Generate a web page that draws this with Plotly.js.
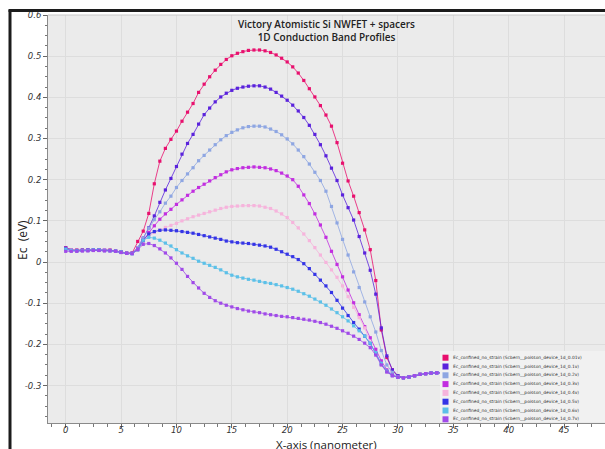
<!DOCTYPE html>
<html>
<head>
<meta charset="utf-8">
<script src="https://cdn.plot.ly/plotly-3.0.1.min.js"></script>
<style>
  html, body { margin: 0; padding: 0; background: #ffffff; }
  #chart { width: 605px; height: 449px; }
</style>
</head>
<body>
<div id="chart"></div>
<script>
// Position along the device (nm)
const xNm = [0,0.5,1,1.5,2,2.5,3,3.5,4,4.5,5,5.5,6,
  6.5,7,7.5,8,8.5,9,9.5,10,
  10.5,11,11.5,12,12.5,13,13.5,14,
  14.5,15,15.5,16,16.5,17,17.5,18,
  18.5,19,19.5,20,20.5,21,21.5,22,
  22.5,23,23.5,24,24.5,25,25.5,26,
  26.5,27,27.5,28,28.5,29,29.5,30,
  30.5,31,31.5,32,32.5,33,33.5,34,34.5,35];

// Conduction band edge Ec (eV) for each gate bias
const ec_001v = [0.035,0.030,0.029,0.029,0.030,0.030,0.030,0.029,0.029,0.027,0.025,0.022,0.022,
  0.050,0.075,0.118,0.190,0.245,0.276,0.298,0.318,
  0.342,0.364,0.385,0.412,0.432,0.450,0.466,0.480,
  0.492,0.501,0.507,0.511,0.514,0.515,0.515,0.513,
  0.509,0.503,0.495,0.486,0.474,0.459,0.441,0.421,
  0.401,0.380,0.357,0.330,0.290,0.240,0.197,0.160,
  0.120,0.078,0.030,-0.045,-0.165,-0.232,-0.262,-0.277,
  -0.281,-0.279,-0.276,-0.273,-0.271,-0.270,-0.269,-0.268,-0.268,-0.268];

const ec_01v = [0.034,0.029,0.028,0.029,0.029,0.030,0.030,0.029,0.028,0.027,0.024,0.021,0.021,
  0.035,0.058,0.083,0.112,0.145,0.175,0.203,0.232,
  0.262,0.288,0.310,0.335,0.358,0.374,0.389,0.401,
  0.410,0.417,0.422,0.425,0.427,0.428,0.428,0.425,
  0.420,0.412,0.403,0.393,0.381,0.367,0.351,0.332,
  0.310,0.285,0.258,0.228,0.198,0.163,0.132,0.102,
  0.062,0.022,-0.020,-0.078,-0.160,-0.228,-0.262,-0.276,
  -0.281,-0.279,-0.276,-0.273,-0.271,-0.270,-0.269,-0.268,-0.268,-0.268];

const ec_02v = [0.033,0.029,0.028,0.028,0.029,0.029,0.030,0.029,0.028,0.027,0.024,0.021,0.021,
  0.035,0.058,0.082,0.103,0.122,0.143,0.160,0.181,
  0.198,0.214,0.229,0.246,0.259,0.272,0.285,0.297,
  0.307,0.315,0.321,0.326,0.329,0.330,0.330,0.328,
  0.323,0.317,0.309,0.299,0.287,0.272,0.256,0.238,
  0.218,0.198,0.172,0.135,0.095,0.055,0.017,-0.024,
  -0.062,-0.097,-0.133,-0.170,-0.215,-0.250,-0.268,-0.278,
  -0.281,-0.279,-0.276,-0.273,-0.271,-0.270,-0.269,-0.268,-0.268,-0.268];

const ec_03v = [0.033,0.029,0.028,0.028,0.029,0.029,0.029,0.029,0.028,0.026,0.024,0.021,0.021,
  0.032,0.053,0.072,0.088,0.104,0.117,0.128,0.140,
  0.151,0.162,0.172,0.181,0.189,0.197,0.205,0.212,
  0.219,0.224,0.227,0.229,0.230,0.231,0.230,0.229,
  0.226,0.222,0.216,0.209,0.200,0.184,0.163,0.142,
  0.117,0.090,0.060,0.026,-0.006,-0.036,-0.068,-0.099,
  -0.128,-0.157,-0.184,-0.212,-0.240,-0.262,-0.274,-0.279,
  -0.281,-0.279,-0.276,-0.273,-0.271,-0.270,-0.269,-0.268,-0.268,-0.268];

const ec_04v = [0.032,0.029,0.028,0.028,0.029,0.029,0.029,0.029,0.028,0.026,0.024,0.021,0.021,
  0.030,0.049,0.062,0.072,0.078,0.084,0.089,0.094,
  0.100,0.105,0.110,0.114,0.118,0.122,0.126,0.130,
  0.133,0.135,0.136,0.137,0.137,0.137,0.136,0.133,
  0.130,0.124,0.117,0.108,0.096,0.083,0.068,0.052,
  0.035,0.017,-0.001,-0.019,-0.037,-0.058,-0.084,-0.110,
  -0.135,-0.160,-0.195,-0.225,-0.250,-0.267,-0.276,-0.280,
  -0.281,-0.279,-0.276,-0.273,-0.271,-0.270,-0.269,-0.268,-0.268,-0.268];

const ec_05v = [0.032,0.028,0.028,0.028,0.029,0.029,0.029,0.028,0.028,0.026,0.024,0.021,0.021,
  0.030,0.052,0.068,0.074,0.077,0.078,0.077,0.076,
  0.074,0.072,0.070,0.067,0.064,0.061,0.058,0.055,
  0.051,0.049,0.047,0.046,0.045,0.043,0.041,0.039,
  0.036,0.031,0.025,0.019,0.013,0.006,-0.004,-0.016,
  -0.030,-0.044,-0.058,-0.074,-0.093,-0.112,-0.130,-0.147,
  -0.163,-0.180,-0.198,-0.222,-0.248,-0.266,-0.276,-0.280,
  -0.281,-0.279,-0.276,-0.273,-0.271,-0.270,-0.269,-0.268,-0.268,-0.268];

const ec_06v = [0.031,0.028,0.027,0.028,0.028,0.029,0.029,0.028,0.027,0.026,0.024,0.021,0.020,
  0.030,0.053,0.060,0.058,0.053,0.046,0.039,0.030,
  0.022,0.015,0.009,0.002,-0.003,-0.008,-0.013,-0.019,
  -0.026,-0.032,-0.036,-0.039,-0.042,-0.044,-0.047,-0.050,
  -0.052,-0.055,-0.058,-0.062,-0.066,-0.071,-0.077,-0.083,
  -0.090,-0.097,-0.105,-0.114,-0.123,-0.133,-0.143,-0.155,
  -0.167,-0.180,-0.197,-0.220,-0.246,-0.265,-0.275,-0.280,
  -0.281,-0.279,-0.276,-0.273,-0.271,-0.270,-0.269,-0.268,-0.268,-0.268];

const ec_07v = [0.026,0.026,0.026,0.027,0.027,0.028,0.028,0.027,0.027,0.026,0.023,0.021,0.020,
  0.030,0.043,0.045,0.040,0.032,0.022,0.010,-0.003,
  -0.018,-0.035,-0.050,-0.063,-0.076,-0.086,-0.094,-0.100,
  -0.105,-0.109,-0.113,-0.116,-0.119,-0.121,-0.123,-0.126,
  -0.128,-0.130,-0.132,-0.133,-0.135,-0.137,-0.139,-0.141,
  -0.144,-0.147,-0.151,-0.156,-0.161,-0.167,-0.173,-0.180,
  -0.188,-0.197,-0.208,-0.226,-0.250,-0.267,-0.276,-0.280,
  -0.281,-0.279,-0.276,-0.273,-0.271,-0.270,-0.269,-0.268,-0.268,-0.268];

const seriesNames = [
  "Ec_confined_no_strain (Scbern__poisson_device_1d_0.01v)",
  "Ec_confined_no_strain (Scbern__poisson_device_1d_0.1v)",
  "Ec_confined_no_strain (Scbern__poisson_device_1d_0.2v)",
  "Ec_confined_no_strain (Scbern__poisson_device_1d_0.3v)",
  "Ec_confined_no_strain (Scbern__poisson_device_1d_0.4v)",
  "Ec_confined_no_strain (Scbern__poisson_device_1d_0.5v)",
  "Ec_confined_no_strain (Scbern__poisson_device_1d_0.6v)",
  "Ec_confined_no_strain (Scbern__poisson_device_1d_0.7v)"
];
const seriesValues = [ec_001v, ec_01v, ec_02v, ec_03v, ec_04v, ec_05v, ec_06v, ec_07v];
const seriesColors = ["#e8106e", "#5a22dc", "#8ea6e2", "#c22ee0",
                      "#f6b4dc", "#3434e6", "#5cc0e8", "#a04ae8"];

const yTickVals = [-0.3, -0.2, -0.1, 0, 0.1, 0.2, 0.3, 0.4, 0.5, 0.6];
const yTickText = ["-0.3", "-0.2", "-0.1", "0", "0.1", "0.2", "0.3", "0.4", "0.5", "0.6"];

const chartTitle = "Victory Atomistic Si NWFET + spacers<br>1D Conduction Band Profiles";
const xTitle = "X-axis (nanometer)";
const yTitle = "Ec&nbsp;&nbsp;(eV)";

const traces = seriesValues.map((vals, i) => ({
  type: "scatter",
  mode: "lines+markers",
  x: xNm,
  y: vals,
  name: seriesNames[i],
  showlegend: false,
  line: { color: seriesColors[i], width: 0.8 },
  marker: { color: seriesColors[i], size: 3.2, symbol: "square" }
}));

// Plot-area geometry used to place the hand-built legend, axis titles and frame
const L = 48, T = 15, W = 605 - 48, H = 423 - 15;
const px = (p) => (p - L) / W;
const py = (p) => (T + H - p) / H;

const shapes = [
  // outer frame (left and top edges)
  { type: "line", xref: "paper", yref: "paper", x0: px(10), x1: px(10), y0: py(449), y1: py(10),
    line: { color: "#1c1c1c", width: 3 } },
  { type: "line", xref: "paper", yref: "paper", x0: px(8.5), x1: 1.02, y0: py(10.5), y1: py(10.5),
    line: { color: "#1c1c1c", width: 3 } },
  // thin light edge along the top of the plot area
  { type: "line", xref: "paper", yref: "paper", x0: 0, x1: 1.0, y0: 1, y1: 1,
    line: { color: "#c8c8c8", width: 1 } },
  // legend background
  { type: "rect", xref: "paper", yref: "paper", x0: px(440), x1: 1.0, y0: py(422), y1: py(351),
    fillcolor: "#f1f1f1", line: { width: 0 }, layer: "above" }
];

const annotations = [
  { xref: "paper", yref: "paper", x: px(326), y: py(444.5), xanchor: "center", yanchor: "middle",
    showarrow: false, text: xTitle, font: { family: "Open Sans", size: 11.5, color: "#222" } },
  { xref: "paper", yref: "paper", x: px(22), y: py(240), xanchor: "center", yanchor: "middle",
    textangle: -90, showarrow: false, text: yTitle, font: { family: "Open Sans", size: 12, color: "#222" } }
];
seriesNames.forEach((name, i) => {
  const cy = 357.7 + i * 8.8;
  shapes.push({ type: "rect", xref: "paper", yref: "paper",
    x0: px(442.5), x1: px(448.5), y0: py(cy + 3), y1: py(cy - 3),
    fillcolor: seriesColors[i], line: { width: 0 }, layer: "above" });
  annotations.push({ xref: "paper", yref: "paper", x: px(451), y: py(cy),
    xanchor: "left", yanchor: "middle", showarrow: false, text: name,
    font: { family: "DejaVu Sans", size: 4.4, color: "#333" } });
});

const tickFont = { family: "DejaVu Sans", size: 8.5, color: "#333", style: "italic" };

const layout = {
  width: 605, height: 449,
  margin: { l: L, r: 0, t: T, b: 449 - 423 },
  paper_bgcolor: "#ffffff",
  plot_bgcolor: "#ebebeb",
  showlegend: false,
  title: {
    text: chartTitle,
    font: { family: "Open Sans", size: 10, color: "#222", weight: 600 },
    xref: "paper", x: 0.5, xanchor: "center",
    yref: "container", y: 1 - 28 / 449, yanchor: "top"
  },
  xaxis: {
    range: [-1.6, 48.7],
    tick0: 0, dtick: 5,
    ticks: "outside", ticklen: 4, tickcolor: "#666", tickwidth: 1,
    ticklabelstandoff: -5,
    showline: true, linecolor: "#8a8a8a", linewidth: 1,
    showgrid: true, gridcolor: "#dddddd", gridwidth: 1,
    zeroline: false,
    tickfont: tickFont,
    minor: { dtick: 1.25, ticks: "outside", ticklen: 2.5, tickcolor: "#777", showgrid: false }
  },
  yaxis: {
    range: [-0.391, 0.6],
    tickvals: yTickVals, ticktext: yTickText,
    ticks: "outside", ticklen: 4, tickcolor: "#666", tickwidth: 1,
    showline: true, linecolor: "#8a8a8a", linewidth: 1,
    showgrid: true, gridcolor: "#dddddd", gridwidth: 1,
    zeroline: false,
    tickfont: tickFont,
    minor: { dtick: 0.025, tick0: 0, ticks: "outside", ticklen: 2.5, tickcolor: "#777", showgrid: false }
  },
  shapes: shapes,
  annotations: annotations
};

Plotly.newPlot("chart", traces, layout, { displayModeBar: false, staticPlot: true });
</script>
</body>
</html>
